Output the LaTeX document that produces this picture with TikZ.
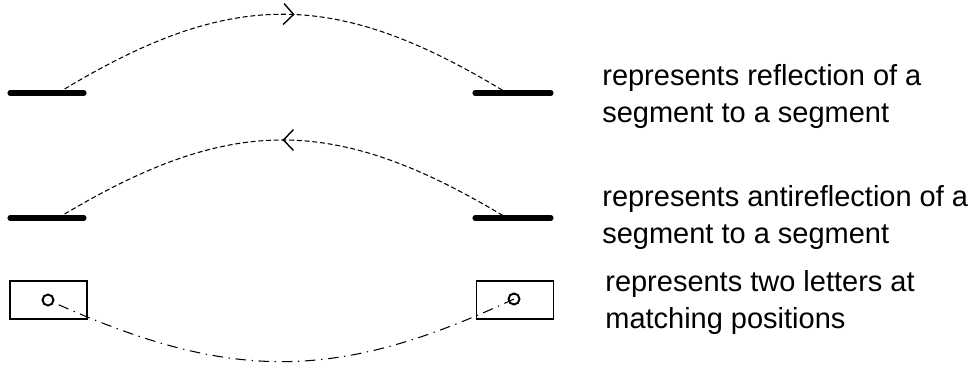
\documentclass[tikz,border=0pt]{standalone}
\usepackage{fontspec}
\setmainfont{Liberation Sans}
\usetikzlibrary{arrows.meta,decorations.markings}

\begin{document}
\begin{tikzpicture}[x=0.02cm,y=-0.02cm,
  segline/.style={line width=2.9pt, line cap=round},
  arcline/.style={line width=0.6pt, dash pattern=on 2.8pt off 1.6pt},
  matchline/.style={line width=0.6pt, dash pattern=on 6pt off 3.2pt on 0.8pt off 3.2pt},
  letterbox/.style={draw, line width=0.6pt, minimum width=1.54cm, minimum height=0.76cm, inner sep=0pt},
  letterdot/.style={draw, circle, line width=1.1pt, minimum size=0.22cm, inner sep=0pt},
  caption/.style={anchor=base west, align=left, inner sep=0pt,
    font=\fontsize{16.5}{21}\selectfont},
  fwdmark/.style={postaction={decorate}, decoration={markings,
    mark=at position #1 with {\arrow[line width=0.8pt]{Straight Barb[length=2mm,width=4.2mm]}}}},
  bwdmark/.style={postaction={decorate}, decoration={markings,
    mark=at position #1 with {\arrowreversed[line width=0.8pt]{Straight Barb[length=2mm,width=4.2mm]}}}},
]
\useasboundingbox (0,0) rectangle (975,369);

% reflection: segment to segment
\coordinate (refL) at (58,93);
\coordinate (refR) at (507,93);
\draw[segline] (10,93) -- (84,93);
\draw[segline] (475,93) -- (551,93);
\draw[arcline, fwdmark=0.525] (refL) .. controls (230,-12) and (335,-12) .. (refR);
\node[caption] (capRef) at (602,122) {represents reflection of a\\segment to a segment};

% antireflection: segment to segment
\coordinate (antiL) at (58,218);
\coordinate (antiR) at (507,218);
\draw[segline] (10,218) -- (84,218);
\draw[segline] (475,218) -- (551,218);
\draw[arcline, bwdmark=0.5] (antiL) .. controls (230,114) and (335,114) .. (antiR);
\node[caption] (capAnti) at (602,243) {represents antireflection of a\\segment to a segment};

% two letters at matching positions
\node[letterbox] (boxL) at (48.5,300) {};
\node[letterbox] (boxR) at (515,300) {};
\node[letterdot] (dotL) at (48,300) {};
\node[letterdot] (dotR) at (514,299) {};
\draw[matchline, shorten <=3pt] (dotL) .. controls (235,383) and (340,380) .. (dotR.center);
\node[caption] (capMatch) at (605,328) {represents two letters at\\matching positions};
\end{tikzpicture}
\end{document}
